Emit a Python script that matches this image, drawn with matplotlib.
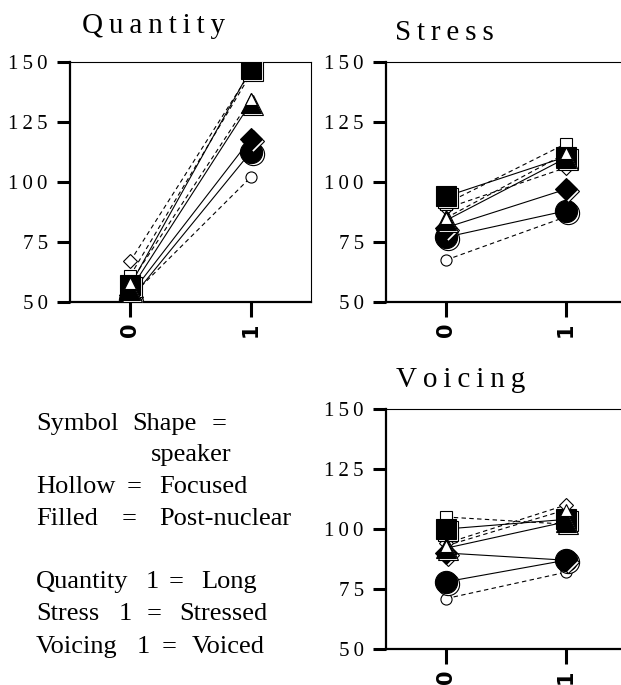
import matplotlib
matplotlib.use("Agg")
import matplotlib.pyplot as plt
from matplotlib.transforms import offset_copy

plt.rcParams["font.family"] = ["Liberation Serif", "DejaVu Serif"]

LEVELS = [0, 1]
Y_TICKS = [50, 75, 100, 125, 150]
SPEAKERS = ["circle", "diamond", "square", "triangle"]

# post-nuclear (filled) and focused (hollow) means at level 0 and 1
QUANTITY_FILLED = {"circle": [51, 112.5], "diamond": [53, 118], "square": [57, 147], "triangle": [55, 133]}
QUANTITY_HOLLOW = {"circle": [52, 102], "diamond": [67, 146], "square": [61, 145], "triangle": [58, 134.5]}
STRESS_FILLED = {"circle": [77, 88], "diamond": [81, 97], "square": [94, 110.5], "triangle": [84, 110]}
STRESS_HOLLOW = {"circle": [67.5, 85.5], "diamond": [89, 106], "square": [91, 116], "triangle": [85, 112]}
VOICING_FILLED = {"circle": [78, 87], "diamond": [90, 87], "square": [100, 104], "triangle": [92, 103]}
VOICING_HOLLOW = {"circle": [71, 82], "diamond": [94, 110], "square": [105, 102], "triangle": [93, 108]}

# key text, word by word: (text, x px, baseline px)
NOTES = [
    ("Symbol", 36, 430), ("Shape", 132, 430), ("=", 212, 430),
    ("speaker", 151, 461),
    ("Hollow", 36, 493), ("=", 127, 493), ("Focused", 159, 493),
    ("Filled", 36, 525), ("=", 122, 525), ("Post-nuclear", 159, 525),
    ("Quantity", 36, 588), ("1", 146, 588), ("=", 169, 588), ("Long", 201, 588),
    ("Stress", 36, 620), ("1", 119, 620), ("=", 147, 620), ("Stressed", 179, 620),
    ("Voicing", 36, 653), ("1", 137, 653), ("=", 162, 653), ("Voiced", 192, 653),
]

MARK = {"circle": "o", "diamond": "D", "square": "s", "triangle": "^"}
BIG = {"circle": 16, "diamond": 11, "square": 15, "triangle": 14}
SMALL = {"circle": 8, "diamond": 7, "square": 8, "triangle": 9}

W, H = 621, 685


def spaced(s):
    return "\u2009".join(s)


def draw_panel(fig, box, title, title_xy, filled, hollow):
    x0, y0, x1, y1 = box
    ax = fig.add_axes([x0 / W, 1 - y1 / H, (x1 - x0) / W, (y1 - y0) / H])
    ax.set_xlim(-0.5, 1.5)
    ax.set_ylim(50, 150)
    shadow = offset_copy(ax.transData, fig=fig, x=2, y=-2, units="dots")

    for sp in SPEAKERS:
        ax.plot(LEVELS, filled[sp], color="black", lw=0.8, ls="-", zorder=1)
        ax.plot(LEVELS, hollow[sp], color="black", lw=0.8, ls=(0, (4, 3)), zorder=1)

    z = 2
    for sp in SPEAKERS:
        order = [("hollow", hollow), ("filled", filled)]
        if sp == "triangle":
            order = [("filled", filled), ("hollow", hollow)]
        for kind, data in order:
            if kind == "filled":
                ax.plot(LEVELS, data[sp], ls="none", marker=MARK[sp], ms=BIG[sp],
                        mfc="white", mec="black", mew=0.8, transform=shadow, zorder=z)
                ax.plot(LEVELS, data[sp], ls="none", marker=MARK[sp], ms=BIG[sp],
                        mfc="black", mec="black", mew=0.8, zorder=z + 1)
            else:
                ax.plot(LEVELS, data[sp], ls="none", marker=MARK[sp], ms=SMALL[sp],
                        mfc="white", mec="black", mew=0.8, zorder=z + 1)
            z += 2

    ax.set_xticks(LEVELS)
    ax.set_xticklabels([str(v) for v in LEVELS], rotation=90, fontsize=15,
                       family="DejaVu Sans", fontweight="bold")
    ax.set_yticks(Y_TICKS)
    ax.set_yticklabels([spaced(str(v)) for v in Y_TICKS], fontsize=15)
    ax.tick_params(axis="y", direction="out", length=9.5, width=2.2, pad=6.5)
    ax.tick_params(axis="x", direction="out", length=10.5, width=2.2, pad=4)
    ax.spines["left"].set_linewidth(1.6)
    ax.spines["bottom"].set_linewidth(1.6)
    ax.spines["top"].set_linewidth(0.8)
    ax.spines["right"].set_linewidth(0.8)
    fig.text(title_xy[0] / W, 1 - title_xy[1] / H, spaced(title), fontsize=21,
             ha="left", va="baseline")
    return ax


def main():
    fig = plt.figure(figsize=(W / 100, H / 100), dpi=100)

    draw_panel(fig, (70, 62, 311, 302), "Quantity", (82, 33), QUANTITY_FILLED, QUANTITY_HOLLOW)
    draw_panel(fig, (386, 62, 626, 302), "Stress", (395, 40), STRESS_FILLED, STRESS_HOLLOW)
    draw_panel(fig, (386, 409, 626, 649), "Voicing", (396, 387), VOICING_FILLED, VOICING_HOLLOW)

    for text, x, y in NOTES:
        fig.text(x / W, 1 - y / H, text, fontsize=19, ha="left", va="baseline")

    fig.savefig("out.png", dpi=100)
    plt.close(fig)


if __name__ == "__main__":
    main()
